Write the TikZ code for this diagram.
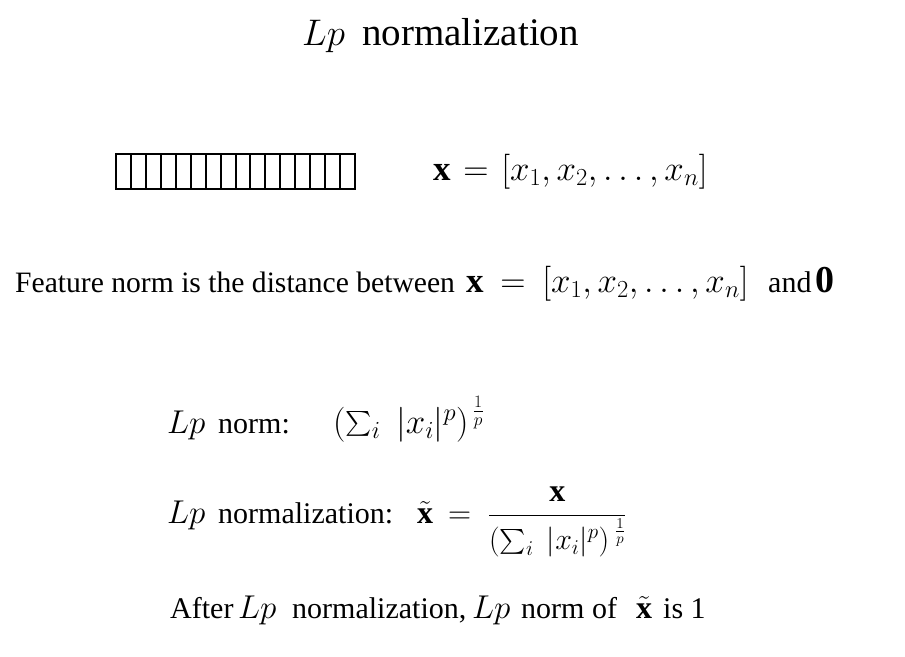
\RequirePackage{fix-cm}
\documentclass[tikz,border=0pt]{standalone}
\usepackage{amsmath}
\usepackage{fontspec}
\setmainfont{Liberation Serif}
\newcommand{\lpsum}{(\sum_i\;|x_i|^p)^{\,\frac{1}{p}}}
\begin{document}
\begin{tikzpicture}[x=1pt,y=1pt,
  txt/.style={anchor=base west,inner sep=0pt,font=\fontsize{30}{36}\selectfont},
  ttl/.style={anchor=base west,inner sep=0pt,font=\fontsize{39}{46}\selectfont},
  ttlm/.style={anchor=base west,inner sep=0pt,font=\fontsize{37}{44}\selectfont},
  mth/.style={anchor=base west,inner sep=0pt,font=\fontsize{33}{38}\selectfont},
  vmth/.style={anchor=base west,inner sep=0pt,font=\fontsize{35}{40}\selectfont},
  cellbox/.style={draw=black,line width=2pt}]
\useasboundingbox (0,0) rectangle (905,-656);
% title
\node[ttlm] (tlp) at (302,-45) {$Lp$};
\node[ttl] (tnorm) at (362,-45) {normalization};
% bar
\foreach \i in {0,...,15}{
  \draw[cellbox] ({116+\i*14.94},-154) rectangle ({116+(\i+1)*14.94},-189);
}
\node[vmth] (vec) at (433,-180) {$\mathbf{x}\hspace{3pt}=\hspace{3pt}[x_1,x_2,\ldots,x_n]$};
% feature line
\node[txt,font=\fontsize{29.6}{36}\selectfont] (feat) at (15,-292) {Feature norm is the distance between};
\node[vmth] (fvec) at (466,-292) {$\mathbf{x}\hspace{7pt}=\hspace{7pt}[x_1,x_2,\ldots,x_n]$};
\node[txt] (fand) at (768,-292) {and};
\node[vmth,font=\fontsize{38}{44}\selectfont] (fzero) at (815,-292) {$\mathbf{0}$};
% Lp norm
\node[mth] (nlp) at (167,-433) {$Lp$};
\node[txt] (nlab) at (218,-433) {norm:};
\node[mth,font=\fontsize{35}{40}\selectfont] (nform) at (333,-433) {$\lpsum$};
% Lp normalization
\node[mth] (zlp) at (167,-523) {$Lp$};
\node[txt] (zlab) at (218,-523) {normalization:};
\node[mth,font=\fontsize{32}{38}\selectfont] (zform) at (417,-523)
  {$\tilde{\mathbf{x}}\hspace{6pt}=\hspace{8pt}\dfrac{\mathbf{x}}{\hbox{\fontsize{30}{36}\selectfont$(\sum_i\;|x_i|^p)^{\;\frac{1}{p}}$}}$};
% after line
\node[txt] (a1) at (170,-618) {After};
\node[mth] (a2) at (238,-618) {$Lp$};
\node[txt] (a3) at (292,-618) {normalization,};
\node[mth] (a4) at (472,-618) {$Lp$};
\node[txt] (a5) at (521,-618) {norm of};
\node[mth,font=\fontsize{32}{38}\selectfont] (a6) at (636,-618) {$\tilde{\mathbf{x}}$};
\node[txt] (a7) at (663,-618) {is 1};
\end{tikzpicture}
\end{document}
